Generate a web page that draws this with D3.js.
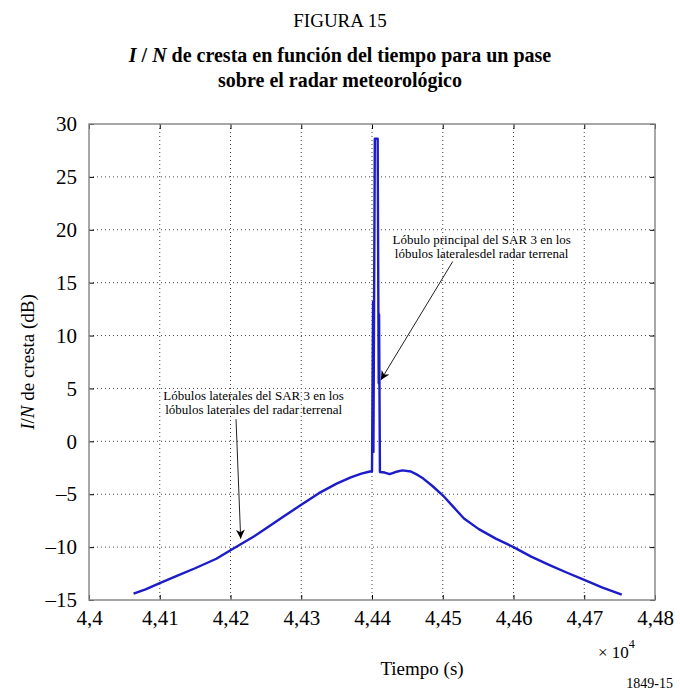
<!DOCTYPE html>
<html>
<head>
<meta charset="utf-8">
<script src="https://cdn.jsdelivr.net/npm/d3@7"></script>
<style>
  body { margin: 0; background: #fff; }
  svg { display: block; font-family: "Liberation Serif", "Times New Roman", serif; }
</style>
</head>
<body>
<div id="chart"></div>
<script>
// Time in units of 10^4 s, peak I/N in dB
const tiempo = [
  4.4063, 4.4080, 4.4100, 4.4125, 4.4150, 4.4180, 4.4200, 4.4215, 4.4233, 4.4251,
  4.4275, 4.4300, 4.4325, 4.4350, 4.4370, 4.4385, 4.4397, 4.4400,
  4.44015, 4.4402, 4.4404, 4.4408, 4.4409, 4.44095, 4.4410, 4.44112,
  4.4418, 4.4425, 4.4433, 4.4443, 4.4455, 4.4465, 4.4472, 4.4485, 4.4500, 4.4515,
  4.4530, 4.4551, 4.4575, 4.4600, 4.4625, 4.4651, 4.4675, 4.4700, 4.4725, 4.4753
];
const cresta = [
  -14.4, -14.0, -13.4, -12.7, -12.0, -11.1, -10.3, -9.7, -9.0, -8.2,
  -7.1, -6.0, -4.9, -4.0, -3.4, -3.05, -2.85, -2.85,
  13.2, -1.0, 28.6, 28.6, 12.4, 5.5, 12.0, -2.9,
  -2.95, -3.1, -2.9, -2.75, -2.85, -3.2, -3.5, -4.2, -5.1, -6.2,
  -7.3, -8.3, -9.2, -10.0, -10.9, -11.7, -12.4, -13.1, -13.8, -14.5
];

const xTicks = [4.40, 4.41, 4.42, 4.43, 4.44, 4.45, 4.46, 4.47, 4.48];
const yTicks = [-15, -10, -5, 0, 5, 10, 15, 20, 25, 30];

// annotations: text lines, arrow tail and tip in data units
const notes = [
  { lines: ["Lóbulo principal del SAR 3 en los", "lóbulos lateralesdel radar terrenal"],
    tx: 4.4555, ty: 18.7, from: [4.45141, 17.0], to: [4.44125, 5.8] },
  { lines: ["Lóbulos laterales del SAR 3 en los", "lóbulos laterales del radar terrenal"],
    tx: 4.42327, ty: 3.9, from: [4.42078, 2.1], to: [4.42144, -9.2] }
];

const W = 680, H = 691;
const margin = { top: 124, right: 25, bottom: 91, left: 89 };

const svg = d3.select("#chart").append("svg")
  .attr("width", W).attr("height", H);

const x = d3.scaleLinear().domain([4.40, 4.48]).range([margin.left, W - margin.right]);
const y = d3.scaleLinear().domain([-15, 30]).range([H - margin.bottom, margin.top]);

const fmt = d => String(+d.toFixed(2)).replace(".", ",");
const fmtY = d => d < 0 ? "\u2013" + Math.abs(d) : String(d);

// titles
svg.append("text").attr("x", 340).attr("y", 27)
  .attr("text-anchor", "middle").style("font-size", "19px")
  .text("FIGURA 15");

const t2 = svg.append("text").attr("x", 340).attr("y", 62)
  .attr("text-anchor", "middle").style("font-size", "20px").style("font-weight", "bold");
t2.append("tspan").style("font-style", "italic").text("I");
t2.append("tspan").text(" / ");
t2.append("tspan").style("font-style", "italic").text("N");
t2.append("tspan").text(" de cresta en función del tiempo para un pase");

svg.append("text").attr("x", 340).attr("y", 87)
  .attr("text-anchor", "middle").style("font-size", "20px").style("font-weight", "bold")
  .text("sobre el radar meteorológico");

// grid
const grid = svg.append("g")
  .attr("stroke", "#444").attr("stroke-width", 1).attr("stroke-dasharray", "1,3");
grid.selectAll(".gx").data(xTicks.slice(1, -1)).enter().append("line")
  .attr("x1", d => x(d)).attr("x2", d => x(d))
  .attr("y1", y(30)).attr("y2", y(-15));
grid.selectAll(".gy").data(yTicks.slice(1, -1)).enter().append("line")
  .attr("x1", x(4.40)).attr("x2", x(4.48))
  .attr("y1", d => y(d)).attr("y2", d => y(d));

// axes with inward ticks
const axFont = g => g.selectAll("text").style("font-size", "21px")
  .style("font-family", "'Liberation Serif', serif").attr("fill", "#000");

svg.append("g").attr("transform", `translate(0,${y(-15)})`)
  .call(d3.axisBottom(x).tickValues(xTicks).tickFormat(fmt).tickSize(-5).tickPadding(10))
  .call(g => g.select(".domain").remove())
  .call(g => g.selectAll("line").attr("stroke", "#000"))
  .call(axFont);
svg.append("g").attr("transform", `translate(0,${y(30)})`)
  .call(d3.axisTop(x).tickValues(xTicks).tickFormat("").tickSize(-5))
  .call(g => g.select(".domain").remove())
  .call(g => g.selectAll("line").attr("stroke", "#000"));
svg.append("g").attr("transform", `translate(${x(4.40)},0)`)
  .call(d3.axisLeft(y).tickValues(yTicks).tickFormat(fmtY).tickSize(-5).tickPadding(12))
  .call(g => g.select(".domain").remove())
  .call(g => g.selectAll("line").attr("stroke", "#000"))
  .call(axFont);
svg.append("g").attr("transform", `translate(${x(4.48)},0)`)
  .call(d3.axisRight(y).tickValues(yTicks).tickFormat("").tickSize(-5))
  .call(g => g.select(".domain").remove())
  .call(g => g.selectAll("line").attr("stroke", "#000"));

// frame
svg.append("rect")
  .attr("x", x(4.40)).attr("y", y(30))
  .attr("width", x(4.48) - x(4.40)).attr("height", y(-15) - y(30))
  .attr("fill", "none").attr("stroke", "#8a8a8a").attr("stroke-width", 1.5);

// curve
const pts = tiempo.map((t, i) => [t, cresta[i]]);
svg.append("path").datum(pts)
  .attr("fill", "none").attr("stroke", "#1c1cc8").attr("stroke-width", 2.4)
  .attr("stroke-linejoin", "round")
  .attr("d", d3.line().x(d => x(d[0])).y(d => y(d[1])));

// arrows
svg.append("defs").append("marker")
  .attr("id", "arrow").attr("viewBox", "0 0 10 10")
  .attr("refX", 10).attr("refY", 5)
  .attr("markerWidth", 9).attr("markerHeight", 9)
  .attr("markerUnits", "userSpaceOnUse").attr("orient", "auto")
  .append("path").attr("d", "M0,0 L10,5 L0,10 L3,5 Z").attr("fill", "#000");

notes.forEach(n => {
  const txt = svg.append("text").attr("text-anchor", "middle").style("font-size", "13px");
  n.lines.forEach((l, i) => {
    txt.append("tspan").attr("x", x(n.tx)).attr("y", y(n.ty) + i * 14).text(l);
  });
  svg.append("line")
    .attr("x1", x(n.from[0])).attr("y1", y(n.from[1]))
    .attr("x2", x(n.to[0])).attr("y2", y(n.to[1]))
    .attr("stroke", "#222").attr("stroke-width", 1)
    .attr("marker-end", "url(#arrow)");
});

// axis labels
const yl = svg.append("text")
  .attr("transform", `translate(34,${(y(30) + y(-15)) / 2}) rotate(-90)`)
  .attr("text-anchor", "middle").style("font-size", "19px");
yl.append("tspan").style("font-style", "italic").text("I");
yl.append("tspan").text("/");
yl.append("tspan").style("font-style", "italic").text("N");
yl.append("tspan").text(" de cresta (dB)");

svg.append("text").attr("x", 422).attr("y", 675)
  .attr("text-anchor", "middle").style("font-size", "19px")
  .text("Tiempo (s)");

const ex = svg.append("text").attr("x", 598).attr("y", 658).style("font-size", "17px");
ex.append("tspan").text("\u00d7 10");
ex.append("tspan").attr("dy", -10).style("font-size", "12px").text("4");

svg.append("text").attr("x", 673).attr("y", 688)
  .attr("text-anchor", "end").style("font-size", "14px")
  .text("1849-15");
</script>
</body>
</html>
